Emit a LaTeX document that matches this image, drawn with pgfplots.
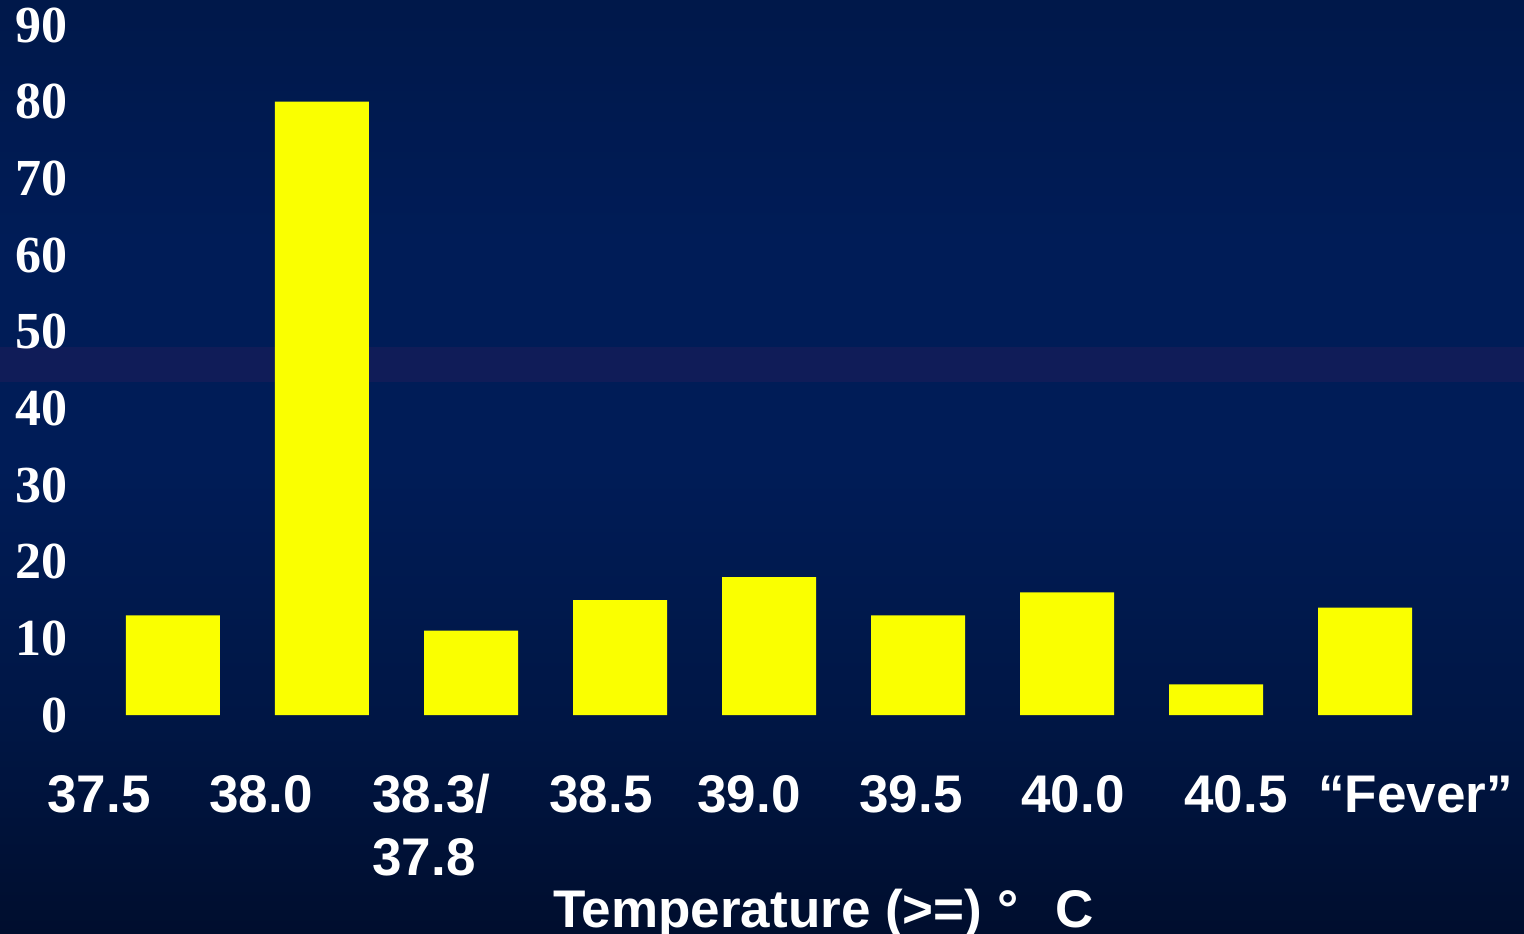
\documentclass[border=0pt]{standalone}
\usepackage{pgfplots}
\pgfplotsset{compat=1.18}
\usepackage{fontspec}
\setmainfont{Liberation Sans}
\newfontfamily\timesfont{Liberation Serif}

\definecolor{barfill}{RGB}{250,255,0}
\definecolor{bgtop}{RGB}{0,24,74}
\definecolor{bgmid}{RGB}{0,28,87}
\definecolor{bglow}{RGB}{0,22,68}
\definecolor{bgbot}{RGB}{0,14,46}
\definecolor{bandcol}{RGB}{16,28,88}

% slide background: dark navy, brightest in the middle, darkest at the bottom
\pgfdeclareverticalshading{slidebg}{100bp}{%
  color(0bp)=(bgbot); color(25bp)=(bgbot); color(36bp)=(bglow);
  color(50bp)=(bgmid); color(62bp)=(bgmid); color(75bp)=(bgtop); color(100bp)=(bgtop)}

\begin{document}
\begin{tikzpicture}[x=1pt,y=1pt]
  \useasboundingbox (0,0) rectangle (762,466.5);
  \clip (0,0) rectangle (762,466.5);
  \shade[shading=slidebg] (0,0) rectangle (762,466.5);
  \fill[bandcol] (0,275.5) rectangle (762,293);

  % bottom edge of the slide title
  \node[font=\bfseries\fontsize{30}{30}\selectfont, text=white, anchor=base west, inner sep=0pt] at (248,473.5) {(};
  \node[font=\bfseries\fontsize{30}{30}\selectfont, text=white, anchor=base west, inner sep=0pt] at (333,473.5) {)};

  \begin{axis}[
    at={(0pt,109pt)}, anchor=south west,
    scale only axis, width=762pt, height=345pt,
    xmin=-1.161, xmax=9.067, ymin=0, ymax=90,
    axis line style={draw=none}, major tick length=0pt,
    ybar, bar width=47pt,
    ytick={0,10,...,90},
    yticklabels={0,10,20,30,40,50,60,70,80,90},
    yticklabel style={font=\timesfont\bfseries\fontsize{26}{26}\selectfont,
      text=white, anchor=east, inner sep=0pt, xshift=34pt},
    xtick={-0.8456,0.2416,1.3356,2.5235,3.5168,4.604,5.691,6.785,7.685},
    xticklabels={37.5,38.0,{\begin{tabular}[t]{@{}l@{}}38.3/\\37.8\end{tabular}},
      38.5,39.0,39.5,40.0,40.5,“Fever”},
    xticklabel style={font=\bfseries\fontsize{26.5}{31.5}\selectfont,
      text=white, anchor=base west, inner sep=0pt, yshift=-48.5pt},
    clip=false,
  ]
    \addplot[fill=barfill, draw=none] coordinates {
      (0,13) (1,80) (2,11) (3,15) (4,18) (5,13) (6,16) (7,4) (8,14)
    };
  \end{axis}

  \node[font=\bfseries\fontsize{26.5}{31.5}\selectfont, text=white, anchor=base west, inner sep=0pt]
    at (276.5,3) {Temperature (>=) °\hspace{0.7em}C};
\end{tikzpicture}
\end{document}
